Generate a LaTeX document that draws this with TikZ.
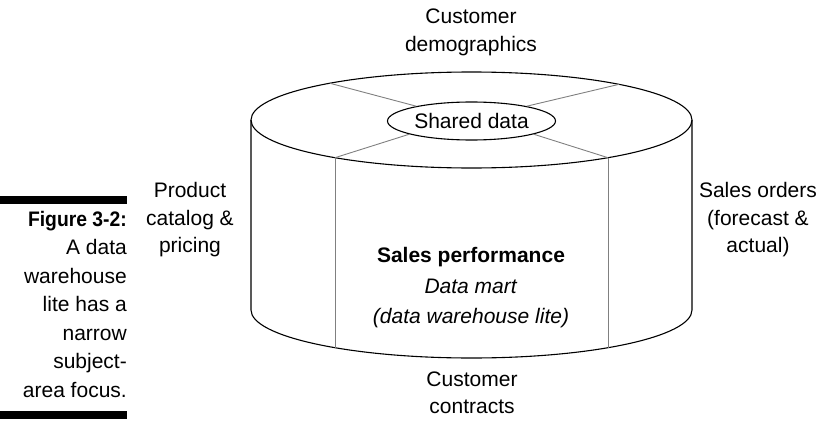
\documentclass[tikz,border=0pt]{standalone}
\usepackage{fontspec}
\setmainfont{Liberation Sans}
\newfontfamily\figfont{Liberation Sans}[FakeStretch=0.92]
\usepackage{tikz}
\usetikzlibrary{calc, shapes.geometric}

\definecolor{divgray}{gray}{0.5}

\begin{document}
\begin{tikzpicture}[
    x=1bp, y=1bp,
    txt/.style={align=center, inner sep=0, font=\fontsize{21bp}{27.5bp}\selectfont},
    rim/.style={line width=1.1bp},
    divider/.style={divgray, line width=0.9bp},
    shared/.style={ellipse, draw, line width=1.1bp, fill=white, minimum width=168bp, minimum height=38bp, inner sep=0, font=\fontsize{21bp}{27bp}\selectfont},
    bar/.style={fill=black}
]
\useasboundingbox (0,0) rectangle (819,420);

% cylinder
\coordinate (lid) at (471.5,300);
\coordinate (floor) at (471.5,110);
\draw[rim] ($(lid)+(-220.5,0)$) -- ($(floor)+(-220.5,0)$)
    arc[start angle=180, end angle=360, x radius=220.5, y radius=48] -- ($(lid)+(220.5,0)$);
\draw[rim] (lid) ellipse [x radius=220.5, y radius=48];

\coordinate (lidUL) at ($(lid)+(130:220.5 and 48)$);
\coordinate (lidUR) at ($(lid)+(48:220.5 and 48)$);
\coordinate (lidLL) at ($(lid)+(231.75:220.5 and 48)$);
\coordinate (lidLR) at ($(lid)+(308.25:220.5 and 48)$);
\coordinate (floorL) at ($(floor)+(231.75:220.5 and 48)$);
\coordinate (floorR) at ($(floor)+(308.25:220.5 and 48)$);

\draw[divider] (lidLL) -- (floorL);
\draw[divider] (lidLR) -- (floorR);

\node[shared] (shared) at (471.5,299) {Shared data};

\draw[divider] (lidUL) -- (shared.165);
\draw[divider] (lidUR) -- (shared.15);
\draw[divider] (lidLL) -- (shared.192);
\draw[divider] (lidLR) -- (shared.348);

% labels round the mart
\node[txt] (demog) at (471,387.5) {Customer\\demographics};
\node[txt] (contracts) at (472,27) {Customer\\contracts};
\node[txt] (catalog) at (190,200) {Product\\catalog \&\\pricing};
\node[txt] (orders) at (758,200) {Sales orders\\(forecast \&\\actual)};
\node[txt, font=\fontsize{21bp}{30.5bp}\selectfont] (mart) at (471,132)
    {\textbf{Sales performance}\\\textit{Data mart}\\\textit{(data warehouse lite)}};

% caption
\fill[bar] (0,216) rectangle (127,224);
\node[txt, align=right, anchor=north east, font=\fontsize{21bp}{28.5bp}\selectfont] (caption) at (127,209)
    {{\figfont\bfseries Figure 3-2:}\\A data\\warehouse\\lite has a\\narrow\\subject-\\area focus.};
\fill[bar] (0,1) rectangle (127,9.5);

\end{tikzpicture}
\end{document}
